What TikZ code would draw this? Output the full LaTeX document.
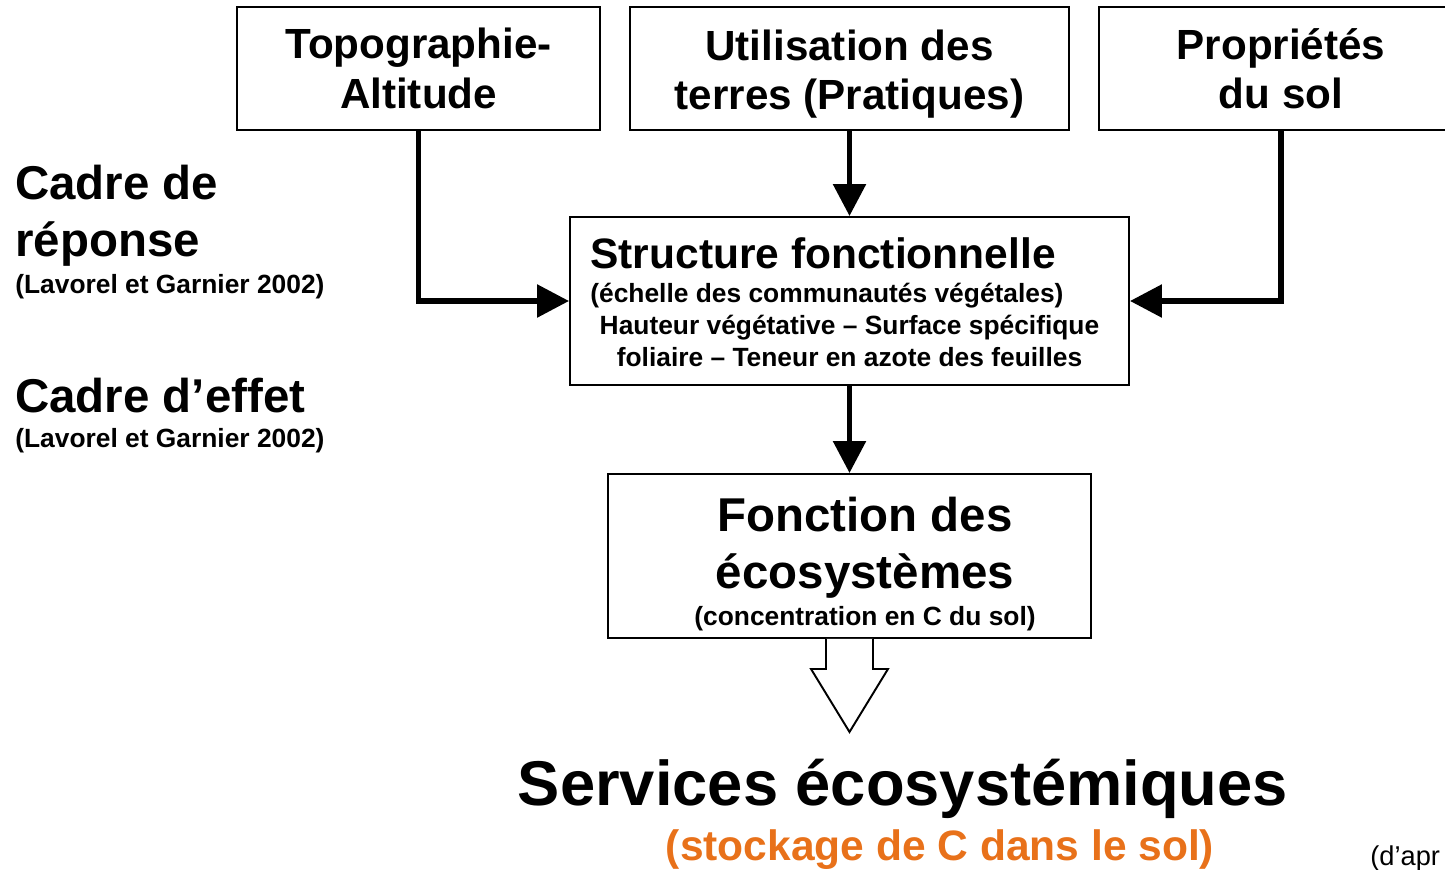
\documentclass[tikz,border=0pt]{standalone}
\usepackage{fontspec}
\setmainfont{Liberation Sans}
\usetikzlibrary{arrows.meta,positioning}

\definecolor{stockorange}{RGB}{232,113,26}

\tikzset{
    boite/.style={draw, line width=1.1pt, minimum height=2.46cm, align=center,
        font=\bfseries\fontsize{24}{28}\selectfont},
    fleche/.style={line width=3.2pt, -{Triangle[length=0.64cm,width=0.64cm]}},
    titre/.style={anchor=base west, align=left, inner sep=0pt,
        font=\bfseries\fontsize{27}{32}\selectfont},
    reference/.style={anchor=base west, inner sep=0pt,
        font=\bfseries\fontsize{15}{17}\selectfont},
    detail/.style={inner sep=0pt, font=\bfseries\fontsize{15}{17}\selectfont},
}

\begin{document}
\begin{tikzpicture}
    \useasboundingbox (0,0) rectangle (28.9,-17.38);

    % facteurs
    \node[boite, minimum width=7.26cm] (topo) at (8.37,-1.37) {Topographie-\\Altitude};
    \node[boite, minimum width=8.78cm] (util) at (16.99,-1.37) {\rule{0pt}{0.84cm}Utilisation des\\terres (Pratiques)};
    \node[boite, minimum width=7.28cm] (prop) at (25.62,-1.37) {Propriétés\\du sol};

    % structure fonctionnelle
    \node[draw, line width=1.1pt, minimum width=11.18cm, minimum height=3.36cm] (struct) at (16.99,-6.02) {};
    \node[detail, anchor=base west, font=\bfseries\fontsize{24.2}{28}\selectfont] (structTitre) at (11.8,-5.36) {Structure fonctionnelle};
    \node[detail, anchor=base west] (structEchelle) at (11.8,-6.05) {(échelle des communautés végétales)};
    \node[detail, anchor=base] (structTraitA) at (16.99,-6.68) {Hauteur végétative -- Surface spécifique};
    \node[detail, anchor=base] (structTraitB) at (16.99,-7.32) {foliaire -- Teneur en azote des feuilles};

    % fonction
    \node[draw, line width=1.1pt, minimum width=9.66cm, minimum height=3.28cm] (fonc) at (16.99,-11.12) {};
    \node[anchor=base, align=center, inner sep=0pt, font=\bfseries\fontsize{27}{32}\selectfont] (foncTitre) at (17.3,-11.76) {Fonction des\\écosystèmes};
    \node[detail, anchor=base] (foncConc) at (17.3,-12.5) {(concentration en C du sol)};

    % cadres
    \node[titre] (cadreRep) at (0.3,-5.12) {Cadre de\\réponse};
    \node[reference] (refRep) at (0.3,-5.86) {(Lavorel et Garnier 2002)};
    \node[titre] (cadreEff) at (0.3,-8.24) {Cadre d’effet};
    \node[reference] (refEff) at (0.3,-8.94) {(Lavorel et Garnier 2002)};

    % liens
    \draw[fleche] (topo.south) |- (struct.west);
    \draw[fleche] (util.south) -- (struct.north);
    \draw[fleche] (prop.south) |- (struct.east);
    \draw[fleche] (struct.south) -- (fonc.north);

    % grosse fleche creuse
    \coordinate (pointe) at ([yshift=-1.86cm]fonc.south);
    \draw[line width=1.1pt, fill=white] ([xshift=-0.47cm]fonc.south) -- ++(0,-0.6) -- ++(-0.3,0)
        -- (pointe) -- ([xshift=0.77cm,yshift=-0.6cm]fonc.south) -- ++(-0.3,0) -- ++(0,0.6);

    % services
    \node[anchor=base, inner sep=0pt, font=\bfseries\fontsize{36}{42}\selectfont] (services) at (18.06,-16.1) {Services écosystémiques};
    \node[anchor=base, inner sep=0pt, text=stockorange, font=\bfseries\fontsize{24.2}{28}\selectfont] (stockage) at (18.8,-17.2) {(stockage de C dans le sol)};
    \node[anchor=base west, inner sep=0pt, font=\fontsize{15.5}{18}\selectfont] (source) at (27.4,-17.3) {(d’apr};
\end{tikzpicture}
\end{document}
